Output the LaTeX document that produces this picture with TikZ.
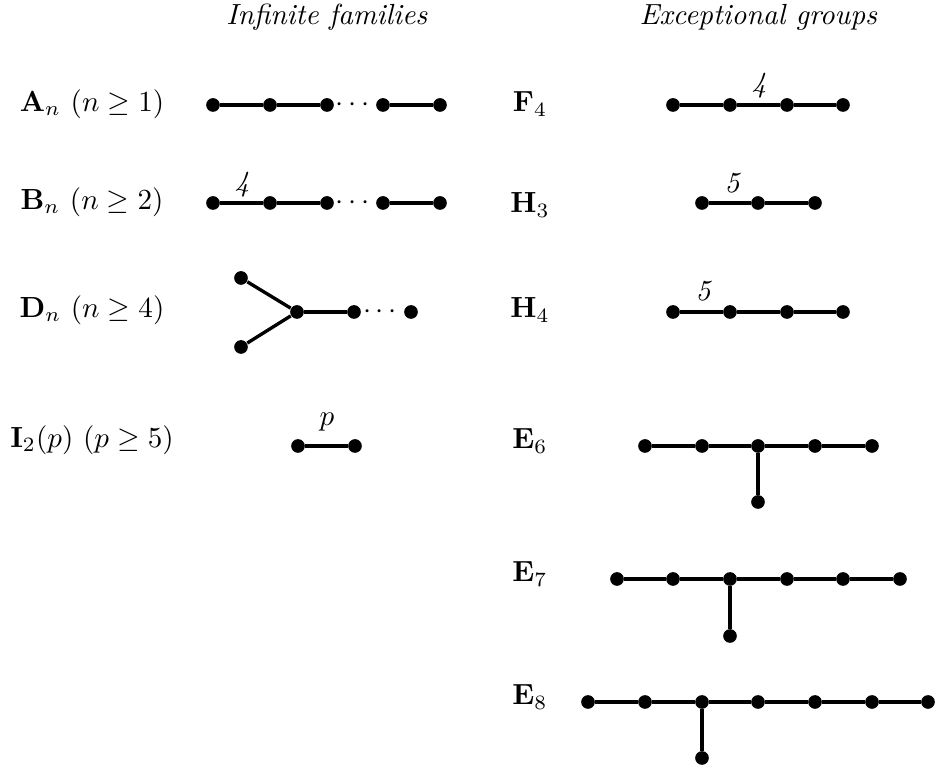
\documentclass[tikz,border=0pt]{standalone}
\usepackage{amsmath,amssymb}
\usetikzlibrary{calc}
\tikzset{
  dot/.style={circle, fill=black, inner sep=0pt, minimum size=4.7pt},
  edge/.style={line width=1.15pt, black},
  lbl/.style={inner sep=0pt},
  elbl/.style={inner sep=0pt, font=\itshape},
}
\begin{document}
\begin{tikzpicture}[x=0.3435pt,y=-0.3435pt]
\useasboundingbox (0,0) rectangle (935,767);
% titles
\node[lbl] (t1) at (327,17) {\textit{Infinite families}};
\node[lbl] (t2) at (758.5,17) {\textit{Exceptional groups}};
% left labels
\node[lbl] (lA) at (92,104) {$\mathbf{A}_n\ (n \geq 1)$};
\node[lbl] (lB) at (92,202) {$\mathbf{B}_n\ (n \geq 2)$};
\node[lbl] (lD) at (92,310) {$\mathbf{D}_n\ (n \geq 4)$};
\node[lbl] (lI) at (92,440) {$\mathbf{I}_2(p)\ (p \geq 5)$};
% right labels
\node[lbl] (lF) at (530,104) {$\mathbf{F}_4$};
\node[lbl] (lH3) at (530,205) {$\mathbf{H}_3$};
\node[lbl] (lH4) at (530,310) {$\mathbf{H}_4$};
\node[lbl] (lE6) at (530,441) {$\mathbf{E}_6$};
\node[lbl] (lE7) at (530,574) {$\mathbf{E}_7$};
\node[lbl] (lE8) at (530,697) {$\mathbf{E}_8$};
% A_n
\foreach \i/\x in {1/213,2/270,3/327,4/383,5/440} \node[dot] (a\i) at (\x,105) {};
\draw[edge] (a1) -- (a2) -- (a3);
\draw[edge] (a4) -- (a5);
\node[lbl] (ad) at ($(a3)!0.5!(a4)$) {$\cdots$};
% B_n
\foreach \i/\x in {1/213,2/270,3/327,4/383,5/440} \node[dot] (b\i) at (\x,203) {};
\draw[edge] (b1) -- (b2) -- (b3);
\draw[edge] (b4) -- (b5);
\node[lbl] (bd) at ($(b3)!0.5!(b4)$) {$\cdots$};
\node[elbl] (b4l) at (242,185) {4};
% D_n
\node[dot] (d1) at (241,278) {};
\node[dot] (d2) at (241,347) {};
\node[dot] (d3) at (297,312) {};
\node[dot] (d4) at (354,312) {};
\node[dot] (d5) at (411,312) {};
\draw[edge] (d1) -- (d3);
\draw[edge] (d2) -- (d3);
\draw[edge] (d3) -- (d4);
\node[lbl] (dd) at ($(d4)!0.5!(d5)$) {$\cdots$};
% I_2(p)
\node[dot] (i1) at (298,446) {};
\node[dot] (i2) at (355,446) {};
\draw[edge] (i1) -- (i2);
\node[lbl] (ipl) at (327,422) {$p$};
% F_4
\foreach \i/\x in {1/673,2/730,3/787,4/843} \node[dot] (f\i) at (\x,105) {};
\draw[edge] (f1) -- (f2) -- (f3) -- (f4);
\node[elbl] (f4l) at (759,86) {4};
% H_3
\foreach \i/\x in {1/702,2/758,3/815} \node[dot] (h\i) at (\x,203) {};
\draw[edge] (h1) -- (h2) -- (h3);
\node[elbl] (h5l) at (732,183) {5};
% H_4
\foreach \i/\x in {1/673,2/730,3/787,4/843} \node[dot] (k\i) at (\x,312) {};
\draw[edge] (k1) -- (k2) -- (k3) -- (k4);
\node[elbl] (k5l) at (703,291) {5};
% E_6
\foreach \i/\x in {1/645,2/702,3/758,4/815,5/872} \node[dot] (e\i) at (\x,446) {};
\node[dot] (eb) at (758,502) {};
\draw[edge] (e1) -- (e2) -- (e3) -- (e4) -- (e5);
\draw[edge] (e3) -- (eb);
% E_7
\foreach \i/\x in {1/617,2/673,3/730,4/787,5/843,6/900} \node[dot] (s\i) at (\x,579) {};
\node[dot] (sb) at (730,636) {};
\draw[edge] (s1) -- (s2) -- (s3) -- (s4) -- (s5) -- (s6);
\draw[edge] (s3) -- (sb);
% E_8
\foreach \i/\x in {1/588,2/645,3/702,4/758,5/815,6/872,7/928} \node[dot] (g\i) at (\x,702) {};
\node[dot] (gb) at (702,758) {};
\draw[edge] (g1) -- (g2) -- (g3) -- (g4) -- (g5) -- (g6) -- (g7);
\draw[edge] (g3) -- (gb);
\end{tikzpicture}
\end{document}
